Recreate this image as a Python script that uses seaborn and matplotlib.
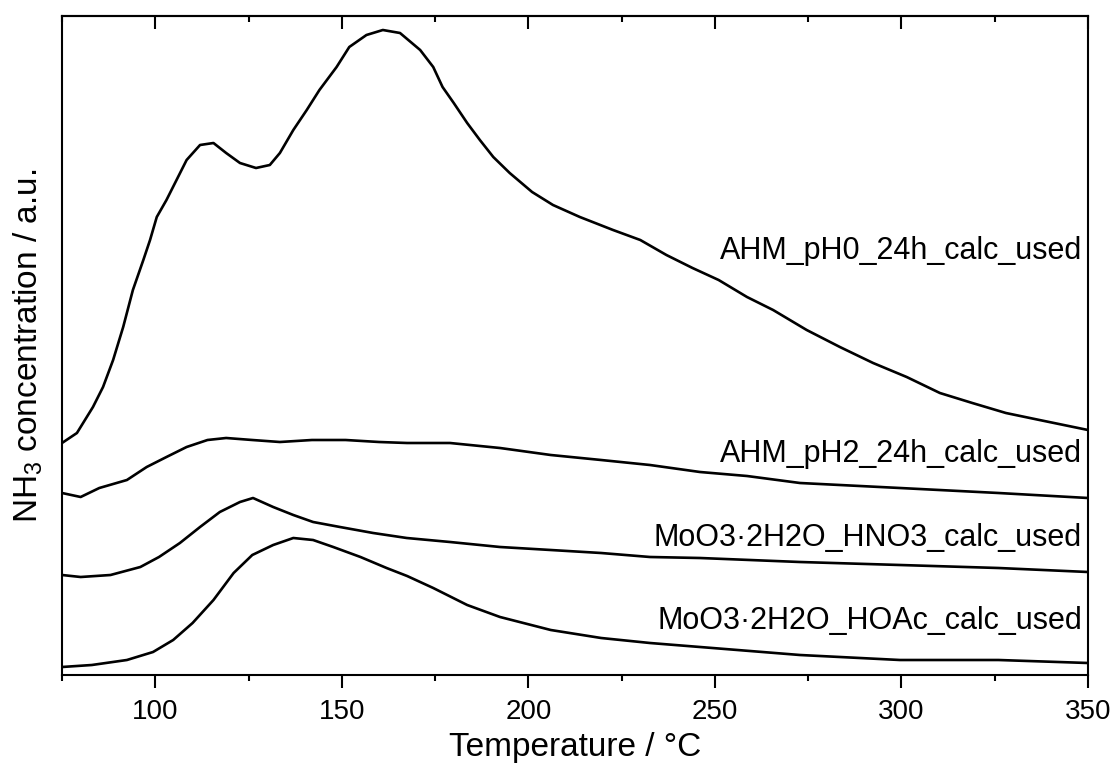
import matplotlib
matplotlib.use("Agg")
import matplotlib.pyplot as plt
from matplotlib.ticker import MultipleLocator, NullFormatter
import seaborn as sns
import pandas as pd

# ---- data (a.u.) ----
t_ph0 = [75, 79, 83.3, 86, 88.7, 91.4, 94, 96.8, 98.6, 100.4, 103, 105.7, 108.4, 112, 115.6,
         119, 122.7, 127, 130.7, 133.4, 137, 140.6, 144, 148.6, 152, 156.6, 161, 165.6, 171,
         174.5, 177, 180, 183.6, 187, 190.6, 195, 201, 206.6, 213.8, 222.7, 230, 237, 244,
         251, 258.6, 265.6, 274.6, 283.5, 292.4, 301.4, 310.3, 319, 328, 337, 350]
y_ph0 = [2.32, 2.42, 2.68, 2.88, 3.15, 3.48, 3.85, 4.15, 4.35, 4.58, 4.75, 4.95, 5.15, 5.30, 5.32,
         5.22, 5.12, 5.07, 5.10, 5.22, 5.45, 5.65, 5.85, 6.08, 6.28, 6.40, 6.45, 6.42, 6.25,
         6.08, 5.88, 5.72, 5.52, 5.35, 5.18, 5.02, 4.83, 4.70, 4.58, 4.45, 4.35, 4.20, 4.07,
         3.95, 3.78, 3.65, 3.45, 3.28, 3.12, 2.98, 2.82, 2.72, 2.62, 2.55, 2.45]

t_ph2 = [75, 80, 85, 92.4, 97.7, 103, 108.4, 114, 119, 126, 133.4, 142, 151, 160, 167.5, 179,
         192.4, 206, 219.5, 232.6, 246, 258.6, 272.8, 299.6, 326, 350]
y_ph2 = [1.82, 1.78, 1.87, 1.95, 2.08, 2.18, 2.28, 2.35, 2.37, 2.35, 2.33, 2.35, 2.35, 2.33, 2.32,
         2.32, 2.27, 2.20, 2.15, 2.10, 2.03, 1.99, 1.92, 1.87, 1.82, 1.77]

t_hno3 = [75, 80, 88, 96, 101, 106.6, 112, 117.3, 122.7, 126.2, 131.6, 137, 142.3, 149.5, 158.4,
          167.4, 179, 192.4, 206, 219.5, 232.6, 246, 272.8, 299.6, 326, 350]
y_hno3 = [1.00, 0.98, 1.00, 1.08, 1.18, 1.32, 1.48, 1.63, 1.73, 1.77, 1.68, 1.60, 1.53, 1.48, 1.42,
          1.37, 1.33, 1.28, 1.25, 1.22, 1.18, 1.17, 1.13, 1.10, 1.07, 1.03]

t_hoac = [75, 83, 92.4, 99.4, 104.8, 110, 115.6, 121, 126, 131.6, 137, 142.3, 147.7, 155, 162,
          167.5, 174.5, 183.6, 192.4, 206, 219.5, 232.6, 246, 272.8, 299.6, 326, 350]
y_hoac = [0.08, 0.10, 0.15, 0.23, 0.35, 0.52, 0.75, 1.02, 1.20, 1.30, 1.37, 1.35, 1.28, 1.18, 1.07,
          0.99, 0.87, 0.70, 0.58, 0.45, 0.37, 0.32, 0.28, 0.20, 0.15, 0.15, 0.12]

labels = ["AHM_pH0_24h_calc_used", "AHM_pH2_24h_calc_used",
          "MoO3\u00b72H2O_HNO3_calc_used", "MoO3\u00b72H2O_HOAc_calc_used"]
label_y = [4.24, 2.21, 1.37, 0.54]

series = [(t_ph0, y_ph0), (t_ph2, y_ph2), (t_hno3, y_hno3), (t_hoac, y_hoac)]
frames = []
for name, (t, y) in zip(labels, series):
    frames.append(pd.DataFrame({"T": t, "signal": y, "sample": name}))
df = pd.concat(frames, ignore_index=True)

sns.set_style("white")
plt.rcParams["font.family"] = ["Liberation Sans", "DejaVu Sans"]
plt.rcParams["mathtext.default"] = "regular"
for k in ["text.color", "axes.labelcolor", "xtick.color", "ytick.color", "axes.edgecolor"]:
    plt.rcParams[k] = "black"

fig = plt.figure(figsize=(11.15, 7.65), dpi=100)
ax = fig.add_axes([62 / 1115, 90 / 765, 1026 / 1115, 659 / 765])

sns.lineplot(data=df, x="T", y="signal", hue="sample", palette=["black"] * 4,
             linewidth=1.9, legend=False, ax=ax, estimator=None, sort=False)

for name, ly in zip(labels, label_y):
    ax.text(348.4, ly, name, ha="right", va="center", fontsize=22, color="black")

ax.set_xlim(75, 350)
ax.set_ylim(0, 6.59)
ax.set_yticks([])
ax.xaxis.set_major_locator(MultipleLocator(50))
ax.xaxis.set_minor_locator(MultipleLocator(25))
ax.tick_params(axis="x", which="major", direction="out", length=9.5, width=1.5,
               labelsize=20, pad=8, bottom=True, top=False, colors="black")
ax.tick_params(axis="x", which="minor", direction="out", length=4.5, width=1.5,
               bottom=True, top=False, colors="black")

sec = ax.secondary_xaxis("top")
sec.xaxis.set_major_locator(MultipleLocator(50))
sec.xaxis.set_minor_locator(MultipleLocator(25))
sec.xaxis.set_major_formatter(NullFormatter())
sec.tick_params(axis="x", which="major", direction="in", length=9.5, width=1.5, labeltop=False)
sec.tick_params(axis="x", which="minor", direction="in", length=4.5, width=1.5)
sec.spines["top"].set_linewidth(1.5)

for s in ax.spines.values():
    s.set_linewidth(1.5)
    s.set_color("black")
    s.set_visible(True)

ax.set_xlabel("Temperature / \u00b0C", fontsize=24, labelpad=5)
ax.set_ylabel("NH$_3$ concentration / a.u.", fontsize=24, labelpad=12)

fig.savefig("out.png", dpi=100)
